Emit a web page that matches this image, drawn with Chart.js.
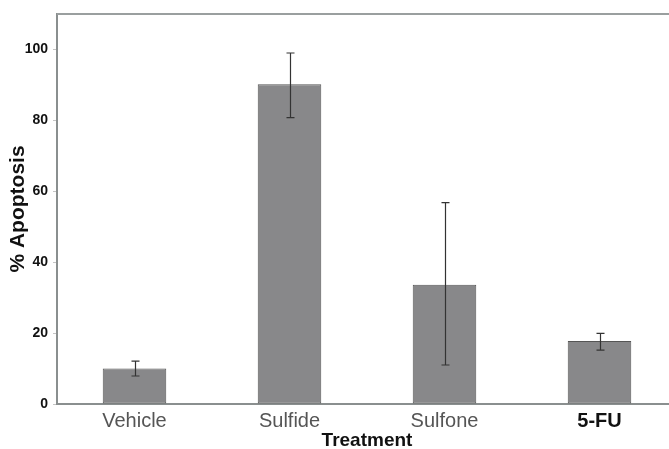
<!DOCTYPE html>
<html>
<head>
<meta charset="utf-8">
<script src="https://cdn.jsdelivr.net/npm/chart.js@4"></script>
<style>
  html, body { margin: 0; padding: 0; background: #fff; overflow: hidden; }
  canvas { display: block; }
</style>
</head>
<body>
<canvas id="c" width="700" height="449"></canvas>
<script>
// Percent apoptosis per treatment, mean with error range
const categories = ['Vehicle', 'Sulfide', 'Sulfone', '5-FU'];
const apoptosis = [10.0, 90.2, 33.6, 17.8];
const errLow = [7.9, 80.8, 11.0, 15.2];
const errHigh = [12.1, 99.0, 56.8, 19.9];
const yTicks = [0, 20, 40, 60, 80, 100];

const FONT = '"Liberation Sans", Arial, Helvetica, sans-serif';

// Error bars with caps, positioned through the chart's own scales
const errorBars = {
  id: 'errorBars',
  afterDatasetsDraw(chart) {
    const ctx = chart.ctx;
    const y = chart.scales.y;
    const meta = chart.getDatasetMeta(0);
    ctx.save();
    ctx.strokeStyle = '#333';
    ctx.lineWidth = 1.2;
    meta.data.forEach((bar, i) => {
      const x = Math.round(bar.x) + 0.5;
      const yHi = y.getPixelForValue(errHigh[i]);
      const yLo = y.getPixelForValue(errLow[i]);
      ctx.beginPath();
      ctx.moveTo(x, yHi); ctx.lineTo(x, yLo);
      ctx.moveTo(x - 4, yHi); ctx.lineTo(x + 4, yHi);
      ctx.moveTo(x - 4, yLo); ctx.lineTo(x + 4, yLo);
      ctx.stroke();
    });
    ctx.restore();
  }
};

// Top edge of the plot frame
const topFrame = {
  id: 'topFrame',
  afterDraw(chart) {
    const a = chart.chartArea;
    const ctx = chart.ctx;
    ctx.save();
    ctx.strokeStyle = '#9a9f9f';
    ctx.lineWidth = 2;
    ctx.beginPath();
    ctx.moveTo(a.left, a.top);
    ctx.lineTo(a.right, a.top);
    ctx.stroke();
    ctx.restore();
  }
};

new Chart(document.getElementById('c'), {
  type: 'bar',
  data: {
    labels: categories,
    datasets: [{
      data: apoptosis,
      backgroundColor: '#88888a',
      borderColor: '#555',
      borderWidth: 1,
      borderSkipped: false,
      barPercentage: 0.41,
      categoryPercentage: 1.0
    }]
  },
  options: {
    responsive: false,
    animation: false,
    devicePixelRatio: 1,
    layout: { padding: { left: 6, top: 14, right: 23, bottom: 0 } },
    plugins: { legend: { display: false }, tooltip: { enabled: false } },
    scales: {
      x: {
        grid: { display: true, drawOnChartArea: false, drawTicks: false },
        border: { display: true, color: '#8a8f8f', width: 2 },
        ticks: {
          padding: 5,
          color: (c) => c.index === 3 ? '#111' : '#555',
          font: (c) => ({ family: FONT, size: 20, weight: c.index === 3 ? 'bold' : 'normal' })
        },
        title: {
          display: true,
          text: 'Treatment',
          color: '#111',
          font: { family: FONT, size: 19, weight: 'bold', lineHeight: 1.0 },
          padding: { top: 0, bottom: -1 }
        },
        afterFit: (s) => { s.height = 45; }
      },
      y: {
        min: 0,
        max: 110,
        afterBuildTicks: (s) => { s.ticks = yTicks.map(v => ({ value: v })); },
        ticks: {
          color: '#111',
          padding: 5,
          font: { family: FONT, size: 14, weight: 'bold' }
        },
        grid: { display: true, drawOnChartArea: false, drawTicks: true, tickLength: 4, color: '#c4c4c4' },
        border: { display: true, color: '#8a8f8f', width: 2 },
        title: {
          display: true,
          text: '% Apoptosis',
          color: '#111',
          font: { family: FONT, size: 21, weight: 'bold', lineHeight: 1.2 },
          padding: { top: 0, bottom: 0 }
        },
        afterFit: (s) => { s.width = 51; }
      }
    }
  },
  plugins: [errorBars, topFrame]
});
</script>
</body>
</html>
